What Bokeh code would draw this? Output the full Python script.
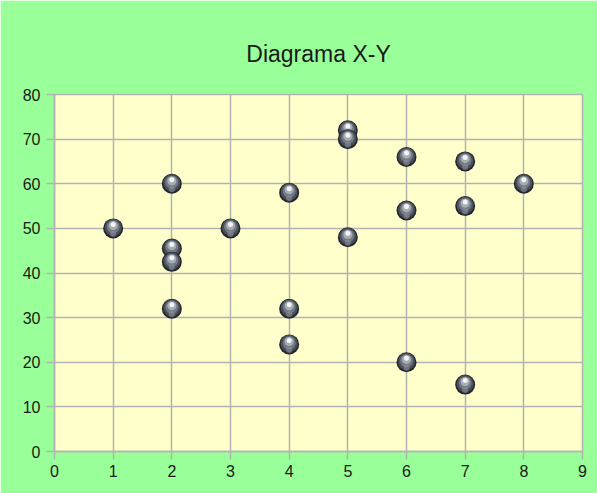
from bokeh.plotting import figure
from bokeh.embed import file_html
from bokeh.resources import INLINE
from bokeh.models import FixedTicker, Range1d

# data
x_vals = [1, 2, 2, 2, 2, 3, 4, 4, 4, 5, 5, 5, 6, 6, 6, 7, 7, 7, 8]
y_vals = [50, 60, 45.5, 42.5, 32, 50, 58, 32, 24, 72, 70, 48, 66, 54, 20, 65, 55, 15, 60]
x_ticks = list(range(0, 10))
y_ticks = list(range(0, 90, 10))
title_text = "Diagrama X-Y"

GREEN = "#99ff99"
PLOTBG = "#ffffcc"
GRID = "#b3b3b3"

p = figure(width=597, height=493, output_backend="svg", toolbar_location=None,
           x_range=Range1d(0, 9), y_range=Range1d(0, 80),
           min_border_left=54, min_border_right=15, min_border_top=94, min_border_bottom=42,
           title=title_text)
p.border_fill_color = GREEN
p.background_fill_color = PLOTBG
p.outline_line_color = GRID
p.outline_line_width = 1.5

p.title.align = "center"
p.title.text_font = "Liberation Sans"
p.title.text_font_size = "23px"
p.title.text_font_style = "normal"
p.title.text_color = "#1a1a1a"
p.title.standoff = 55

for ax, ticks in ((p.xaxis, x_ticks), (p.yaxis, y_ticks)):
    ax.ticker = FixedTicker(ticks=ticks)
    ax.axis_line_color = GRID
    ax.axis_line_width = 1.5
    ax.major_tick_line_color = GRID
    ax.major_tick_line_width = 1.5
    ax.major_tick_out = 8
    ax.major_tick_in = 0
    ax.minor_tick_line_color = None
    ax.major_label_text_font = "Liberation Sans"
    ax.major_label_text_font_size = "16px"
    ax.major_label_text_color = "#1a1a1a"
p.xaxis.major_label_standoff = 5
p.yaxis.major_label_standoff = 6

p.xgrid.ticker = FixedTicker(ticks=x_ticks)
p.ygrid.ticker = FixedTicker(ticks=y_ticks)
for g in (p.xgrid, p.ygrid):
    g.grid_line_color = GRID
    g.grid_line_width = 1.5

# data units per pixel in y (frame height ~357 px for 80 units)
upy = 80 / 357.0
layers = [
    (20, "#25292f", 0.0, 1.0),
    (17, "#4a5059", 0.8, 1.0),
    (13, "#737a84", 1.6, 1.0),
    (9, "#a7adb5", 2.8, 1.0),
    (5, "#f2f4f6", 4.0, 1.0),
]
order = sorted(range(len(x_vals)), key=lambda i: -y_vals[i])
for i in order:
    for size, col, dy, a in layers:
        p.scatter(x=[x_vals[i]], y=[y_vals[i] + dy * upy], size=size,
                  fill_color=col, line_color=None, fill_alpha=a)
    p.scatter(x=[x_vals[i]], y=[y_vals[i] - 5.5 * upy], size=6,
              fill_color="#8a9099", line_color=None, fill_alpha=0.6)

open("out.html", "w").write(file_html(p, INLINE))
